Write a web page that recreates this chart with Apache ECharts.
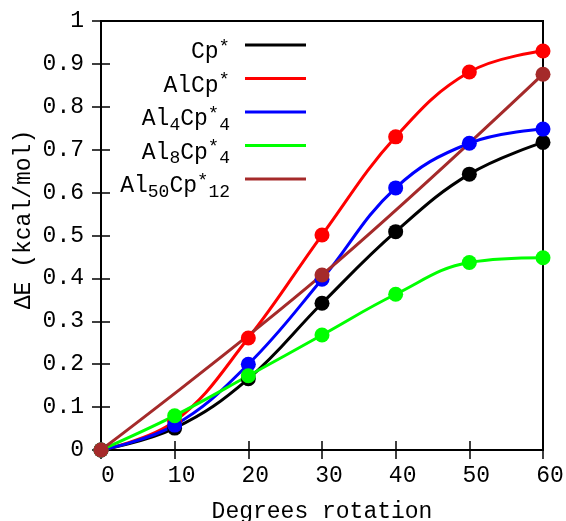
<!DOCTYPE html>
<html>
<head>
<meta charset="utf-8">
<script src="https://cdn.jsdelivr.net/npm/echarts@6/dist/echarts.min.js"></script>
<style>html,body{margin:0;padding:0;background:#fff;}#c{width:566px;height:521px;}</style>
</head>
<body>
<div id="c"></div>
<script>
// ---- data ----
const degrees = [0, 10, 20, 30, 40, 50, 60];
const cpStar = [0, 0.051, 0.166, 0.342, 0.509, 0.643, 0.717];
const alCpStar = [0, 0.067, 0.261, 0.501, 0.730, 0.881, 0.930];
const al4Cp4 = [0, 0.058, 0.200, 0.398, 0.611, 0.715, 0.748];
const al8Cp4 = [0, 0.080, 0.173, 0.268, 0.363, 0.437, 0.448];
const al50Degrees = [0, 30, 60];
const al50Cp12 = [0, 0.408, 0.876];
const seriesNames = ['Cp*', 'AlCp*', 'Al4Cp*4', 'Al8Cp*4', 'Al50Cp*12'];
const legendLabels = [
  '{n|Cp}{sup|*}',
  '{n|AlCp}{sup|*}',
  '{n|Al}{sub|4}{n|Cp}{sup|*}{sub|4}',
  '{n|Al}{sub|8}{n|Cp}{sup|*}{sub|4}',
  '{n|Al}{sub|50}{n|Cp}{sup|*}{sub|12}'
];
const colors = ['#000000', '#ff0000', '#0000ff', '#00ff00', '#a52a2a'];

const FONT = 'Liberation Mono';
const FS = 23;

function pairs(xs, ys) { return xs.map((x, i) => [x, ys[i]]); }
const dataSets = [
  pairs(degrees, cpStar),
  pairs(degrees, alCpStar),
  pairs(degrees, al4Cp4),
  pairs(degrees, al8Cp4),
  pairs(al50Degrees, al50Cp12)
];

const rich = {
  n: { fontFamily: FONT, fontSize: FS, lineHeight: 30, color: '#000' },
  sup: { fontFamily: FONT, fontSize: 19, lineHeight: 14, verticalAlign: 'top', color: '#000' },
  sub: { fontFamily: FONT, fontSize: 18, lineHeight: 18, verticalAlign: 'bottom', color: '#000' }
};

const legendTops = [37, 70.5, 104, 137.5, 171];
const legends = seriesNames.map((name, i) => ({
  data: [name],
  right: 260,
  top: legendTops[i],
  padding: 0,
  align: 'right',
  icon: 'rect',
  itemWidth: 61,
  itemHeight: 3,
  selectedMode: false,
  formatter: () => legendLabels[i],
  textStyle: { rich: rich, padding: [14, 10, 0, 0], fontFamily: FONT, fontSize: FS, color: '#000' }
}));

const axisLabelStyle = { fontFamily: FONT, fontSize: FS, color: '#000' };

const option = {
  animation: false,
  backgroundColor: '#fff',
  grid: { left: 101, right: 23, top: 21, bottom: 71, outerBoundsMode: 'none', containLabel: false, show: true, borderColor: '#000', borderWidth: 2, backgroundColor: 'transparent' },
  legend: legends,
  xAxis: [{
    type: 'value', min: 0, max: 60, interval: 10,
    name: 'Degrees rotation', nameLocation: 'middle', nameGap: 50,
    nameTextStyle: { fontFamily: FONT, fontSize: FS, color: '#000' },
    axisLine: { show: true, onZero: false, lineStyle: { color: '#000', width: 2 } },
    axisTick: { show: true, inside: true, length: 9, lineStyle: { color: '#000', width: 1.5 } },
    axisLabel: Object.assign({ margin: 14, padding: [0, 0, 0, 14] }, axisLabelStyle),
    splitLine: { show: false }
  }, {
    type: 'value', position: 'top', min: 0, max: 60, interval: 10,
    axisLine: { show: false },
    axisTick: { show: true, inside: true, length: 9, lineStyle: { color: '#000', width: 1.5 } },
    axisLabel: { show: false }, splitLine: { show: false }
  }],
  yAxis: [{
    type: 'value', min: 0, max: 1, interval: 0.1,
    name: 'ΔE (kcal/mol)', nameLocation: 'middle', nameGap: 66,
    nameMoveOverlap: false,
    nameTextStyle: { fontFamily: FONT, fontSize: FS, color: '#000', padding: [0, 0, 0, 32] },
    axisLine: { show: true, onZero: false, lineStyle: { color: '#000', width: 2 } },
    axisTick: { show: true, inside: true, length: 9, lineStyle: { color: '#000', width: 1.5 } },
    axisLabel: Object.assign({ margin: 17, formatter: v => String(parseFloat(v.toFixed(1))) }, axisLabelStyle),
    splitLine: { show: false }
  }, {
    type: 'value', position: 'right', min: 0, max: 1, interval: 0.1,
    axisLine: { show: false },
    axisTick: { show: true, inside: true, length: 9, lineStyle: { color: '#000', width: 1.5 } },
    axisLabel: { show: false }, splitLine: { show: false }
  }],
  series: seriesNames.map((name, i) => ({
    name: name,
    type: 'line',
    xAxisIndex: 0, yAxisIndex: 0,
    data: dataSets[i],
    smooth: 0.4,
    clip: false,
    symbol: 'circle',
    symbolSize: 15,
    showAllSymbol: true,
    color: colors[i],
    itemStyle: { color: colors[i] },
    lineStyle: { color: colors[i], width: 3 },
    emphasis: { disabled: true }
  }))
};

const chart = echarts.init(document.getElementById('c'), null, { renderer: 'canvas' });
chart.setOption(option);
</script>
</body>
</html>
